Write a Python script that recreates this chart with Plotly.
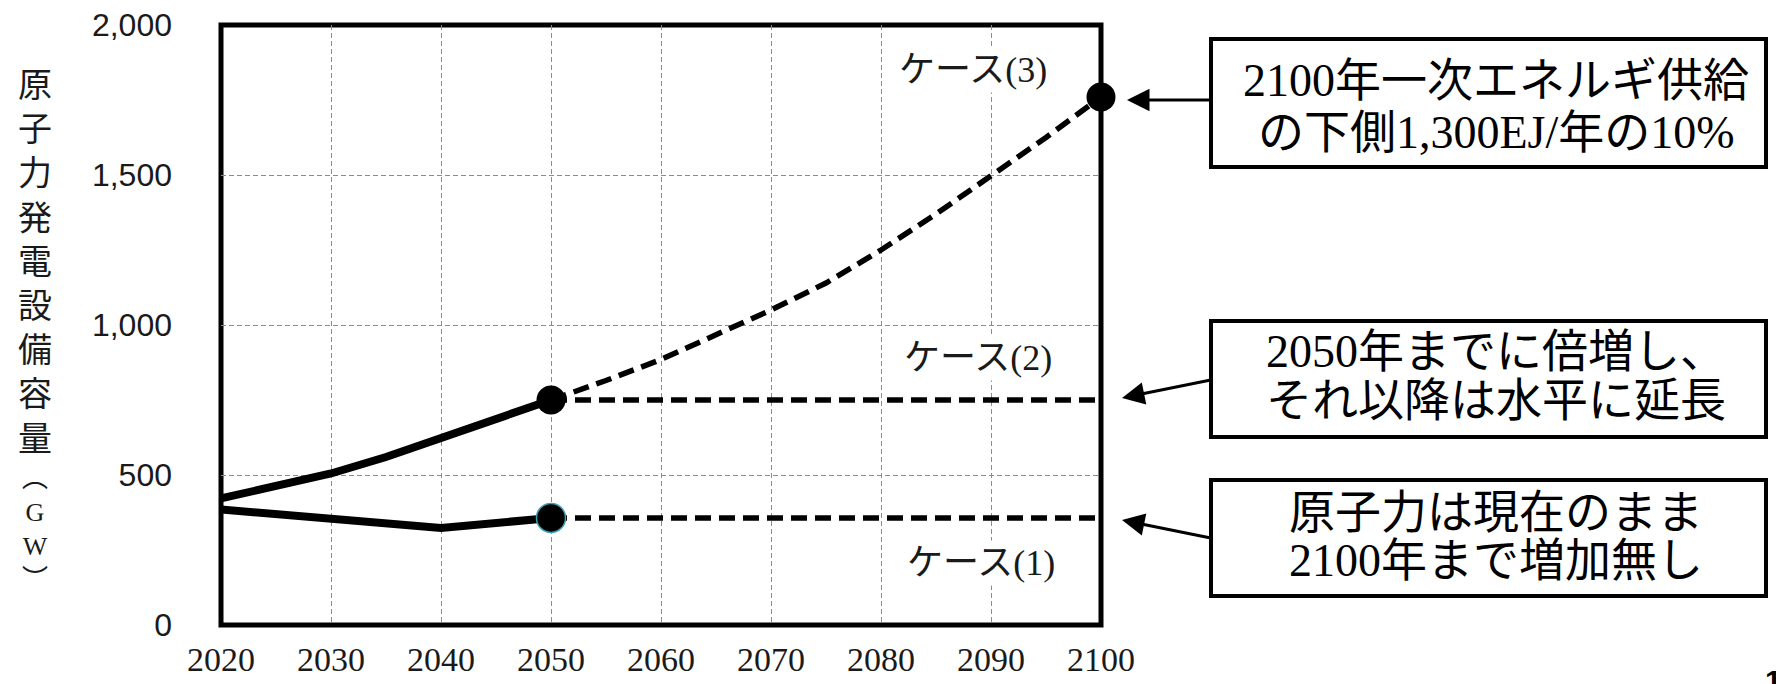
import plotly.graph_objects as go

# ---------------- data ----------------
years_c1 = [2020, 2030, 2040, 2050]
case1_solid = [385, 357, 323, 357]
years_c2 = [2020, 2025, 2030, 2035, 2040, 2045, 2050]
case2_solid = [422, 461, 505, 560, 622, 688, 750]
years_ext = [2050, 2100]
case1_ext = [357, 357]
case2_ext = [750, 750]
years_c3 = [2050, 2055, 2060, 2065, 2070, 2075, 2080, 2085, 2090, 2095, 2100]
case3_ext = [750, 815, 885, 965, 1050, 1140, 1250, 1370, 1495, 1625, 1760]
marker_years = [2050, 2050, 2100]
marker_vals = [750, 357, 1760]

x_ticks = list(range(2020, 2101, 10))
y_ticks = [0, 500, 1000, 1500, 2000]

case_labels = ["ケース(3)", "ケース(2)", "ケース(1)"]
box_texts = [
    ["2100年一次エネルギ供給", "の下側1,300EJ/年の10%"],
    ["2050年までに倍増し、", "それ以降は水平に延長"],
    ["原子力は現在のまま", "2100年まで増加無し"],
]
y_title_main = ["原", "子", "力", "発", "電", "設", "備", "容", "量"]
y_title_unit = ["︵", "G", "W", "︶"]

# ---------------- layout geometry (pixels) ----------------
W, H = 1776, 684
L, R, T, B = 221, 1101, 25, 625


def px(x):
    return (x - L) / (R - L)


def py(y):
    return (B - y) / (B - T)


SERIF = "Times New Roman, Liberation Serif, serif"
SERIF_CJK = "Times New Roman, Liberation Serif, Noto Sans CJK JP"
SANS = "Arial, Liberation Sans, sans-serif"
CJK = "Noto Sans CJK JP"

fig = go.Figure()

solid_w = 8
dash_w = 5.5
dash_pat = "16px,8px"

for xs, ys in [(years_c3, case3_ext), (years_ext, case2_ext), (years_ext, case1_ext)]:
    fig.add_trace(go.Scatter(x=xs, y=ys, mode="lines",
                             line=dict(color="black", width=dash_w, dash=dash_pat),
                             cliponaxis=False, showlegend=False, hoverinfo="skip"))
for xs, ys in [(years_c2, case2_solid), (years_c1, case1_solid)]:
    fig.add_trace(go.Scatter(x=xs, y=ys, mode="lines",
                             line=dict(color="black", width=solid_w),
                             cliponaxis=False, showlegend=False, hoverinfo="skip"))
fig.add_trace(go.Scatter(x=marker_years, y=marker_vals, mode="markers",
                         marker=dict(color="black", size=29,
                                     line=dict(color=["black", "#3a9fb0", "black"],
                                               width=[0, 1.5, 0])),
                         cliponaxis=False, showlegend=False, hoverinfo="skip"))

annotations = []

# case labels (white background hides grid)
case_pos = [(973, 70), (978, 358), (981, 563)]
for txt, (cx, cy) in zip(case_labels, case_pos):
    annotations.append(dict(
        text=txt, x=px(cx), y=py(cy), xref="paper", yref="paper",
        xanchor="center", yanchor="middle", showarrow=False,
        font=dict(family=SERIF_CJK, size=36, color="#1a1a1a"),
        bgcolor="white", borderpad=2))

# y-axis title, stacked characters (two blocks)
annotations.append(dict(
    text="<br>".join(y_title_main), x=px(35), y=py((82 + 437) / 2),
    xref="paper", yref="paper", xanchor="center", yanchor="middle",
    showarrow=False, font=dict(family=CJK, size=34, color="#1a1a1a")))
annotations.append(dict(
    text="<br>".join(y_title_unit), x=px(35), y=py(462),
    xref="paper", yref="paper", xanchor="center", yanchor="top",
    showarrow=False, font=dict(family=SERIF_CJK, size=26, color="#1a1a1a")))

# boxes
box_geom = [(1211, 39, 1766, 167), (1211, 321, 1766, 437), (1211, 480, 1766, 596)]
line_centers = [(80, 132), (352, 400), (512, 560)]
shapes = []
for (x0, y0, x1, y1), lines, ys in zip(box_geom, box_texts, line_centers):
    shapes.append(dict(type="rect", xref="paper", yref="paper",
                       x0=px(x0), x1=px(x1), y0=py(y0), y1=py(y1),
                       line=dict(color="black", width=4), fillcolor="white",
                       layer="above"))
    for t, yy in zip(lines, ys):
        annotations.append(dict(
            text=t, x=px(1496), y=py(yy), xref="paper", yref="paper",
            xanchor="center", yanchor="middle", showarrow=False,
            font=dict(family=SERIF_CJK, size=46, color="black")))

# arrows (tip, tail)
arrows = [((1127, 100), (1211, 100)),
          ((1122, 398), (1211, 380)),
          ((1122, 520), (1211, 538))]
for (tx, ty), (sx, sy) in arrows:
    annotations.append(dict(
        text="", x=px(tx), y=py(ty), xref="paper", yref="paper",
        ax=sx - tx, ay=sy - ty, showarrow=True, arrowhead=2,
        arrowsize=1.5, arrowwidth=3, arrowcolor="black"))

# page number (partially cut off, as in the source)
annotations.append(dict(
    text="<b>1</b>", x=px(1763), y=py(662), xref="paper", yref="paper",
    xanchor="left", yanchor="top", showarrow=False,
    font=dict(family=SANS, size=30, color="black")))

# plot frame
shapes.append(dict(type="rect", xref="paper", yref="paper", x0=0, x1=1, y0=0, y1=1,
                   line=dict(color="black", width=5), layer="below"))

grid_kw = dict(showgrid=True, gridcolor="#8c8c8c", gridwidth=1, griddash="5px,3px",
               zeroline=False, showline=False, automargin=False)

fig.update_layout(
    template="none",
    width=W, height=H,
    margin=dict(l=L, r=W - R, t=T, b=H - B, pad=0, autoexpand=False),
    paper_bgcolor="white", plot_bgcolor="white",
    font=dict(family=SERIF, size=34, color="#1a1a1a"),
    showlegend=False,
    xaxis=dict(range=[2020, 2100], tickvals=x_ticks, ticks="",
               tickfont=dict(family=SERIF, size=34, color="#1a1a1a"),
               ticklabelstandoff=11, **grid_kw),
    yaxis=dict(range=[0, 2000], tickvals=y_ticks, tickformat=",", ticks="",
               tickfont=dict(family=SANS, size=32, color="#1a1a1a"),
               ticklabelstandoff=48, **grid_kw),
    annotations=annotations, shapes=shapes,
)

fig.write_html("out.html")
